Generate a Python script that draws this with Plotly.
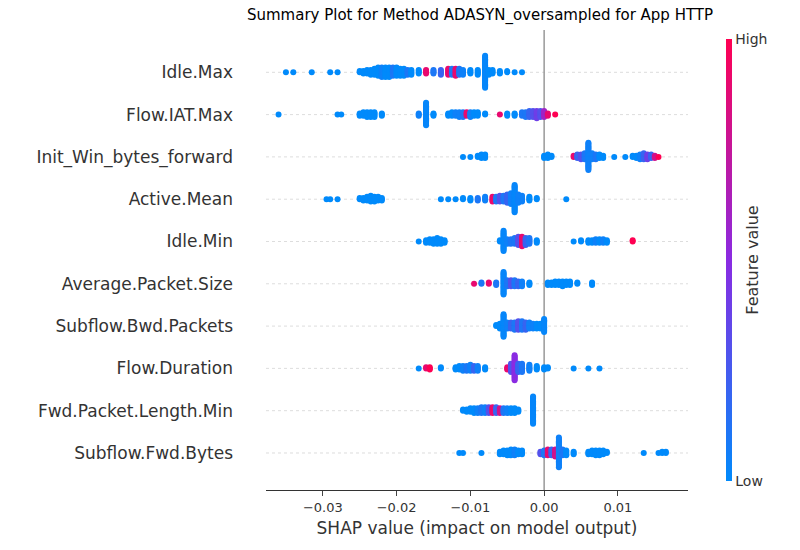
import plotly.graph_objects as go

features = ["Idle.Max", "Flow.IAT.Max", "Init_Win_bytes_forward", "Active.Mean", "Idle.Min",
            "Average.Packet.Size", "Subflow.Bwd.Packets", "Flow.Duration",
            "Fwd.Packet.Length.Min", "Subflow.Fwd.Bytes"]

# per feature: (shap value x1000, point count, feature value 0..1)
idle_max = [(-35, 1, 0), (-34, 1, 0), (-31.5, 1, 0), (-29, 1, 0), (-28, 1, 0), (-25, 2, 0), (-24.5, 3, 0),
            (-24, 4, 0), (-23.5, 5, 0), (-23, 6, 0), (-22.5, 8, 0), (-22, 9, 0.05), (-21.5, 9, 0),
            (-21, 9, 0), (-20.5, 8, 0.1), (-20, 8, 0), (-19.5, 7, 0), (-19, 7, 0), (-18.5, 5, 0.1),
            (-18, 5, 0), (-17, 4, 0), (-16, 4, 0.9), (-15, 4, 0.1), (-14, 5, 0.2), (-13, 6, 0.9),
            (-12.5, 6, 0.1), (-12, 7, 0.9), (-11.5, 6, 0.1), (-11, 5, 0.05), (-10, 4, 0), (-9, 5, 0),
            (-8, 28, 0.02), (-7.5, 5, 0), (-7, 4, 0), (-6, 3, 0), (-5, 2, 0), (-4, 1, 0), (-3, 1, 0)]
flow_iat_max = [(-36, 1, 0), (-28, 1, 0), (-27.5, 1, 0), (-25, 3, 0), (-24.5, 4, 0), (-24, 5, 0),
                (-23.5, 5, 0), (-23, 5, 0), (-22, 3, 0), (-17, 3, 0.05), (-16, 20, 0.02), (-15, 3, 0),
                (-13, 3, 0), (-12.5, 4, 0), (-12, 4, 0.05), (-11.5, 5, 0.05), (-11, 5, 0.1),
                (-10.5, 4, 0.9), (-10, 5, 0.05), (-9.5, 4, 0), (-9, 4, 0), (-8, 2, 0), (-6, 1, 0.9),
                (-5, 3, 0), (-4, 3, 0), (-3, 4, 0.1), (-2.5, 5, 0.1), (-2, 6, 0.2), (-1.5, 6, 0.3),
                (-1, 7, 0.4), (-0.5, 6, 0.3), (0, 6, 0.6), (0.5, 3, 0.9), (1.5, 1, 1)]
init_win = [(-11, 1, 0), (-10, 1, 0), (-9, 2, 0), (-8.5, 4, 0), (-8, 4, 0), (0, 3, 0), (0.5, 4, 0),
            (1, 2, 0), (4, 2, 0.9), (4.5, 4, 0.2), (5, 5, 0.3), (5.5, 6, 0.1), (6, 24, 0.05),
            (6.5, 6, 0.05), (7, 5, 0.1), (7.5, 4, 0), (8, 3, 0), (9.5, 1, 0), (11, 1, 0), (12, 2, 0),
            (12.5, 3, 0), (13, 5, 0.05), (13.5, 6, 0.2), (14, 5, 0.4), (14.5, 4, 0.2), (15, 3, 0.8),
            (15.5, 1, 1)]
active_mean = [(-29.5, 1, 0), (-29, 1, 0), (-28, 1, 0), (-25, 2, 0), (-24.5, 3, 0), (-24, 4, 0),
               (-23.5, 6, 0), (-23, 5, 0), (-22.5, 4, 0), (-22, 3, 0), (-14, 1, 0), (-13, 1, 0),
               (-12, 1, 0), (-11, 2, 0), (-10, 3, 0), (-9, 3, 0.1), (-8, 4, 0.05), (-7, 5, 0.9),
               (-6.5, 5, 0.1), (-6, 6, 0.3), (-5.5, 6, 0.1), (-5, 8, 0.2), (-4.5, 10, 0.05),
               (-4, 24, 0.02), (-3.5, 8, 0.05), (-3, 6, 0.05), (-2, 4, 0), (-1, 2, 0), (3, 1, 0)]
idle_min = [(-17, 1, 0), (-16, 3, 0), (-15.5, 4, 0), (-15, 5, 0), (-14.5, 6, 0), (-14, 5, 0),
            (-13.5, 3, 0), (-6, 2, 0), (-5.5, 18, 0.02), (-5, 5, 0.05), (-4.5, 5, 0.1), (-4, 6, 0.1),
            (-3.5, 8, 0.3), (-3, 9, 0.9), (-2.5, 7, 0.2), (-2, 6, 0.1), (-1, 3, 0), (4, 1, 0),
            (5, 2, 0), (6, 3, 0), (6.5, 3, 0), (7, 4, 0.05), (7.5, 4, 0), (8, 4, 0.05), (8.5, 3, 0),
            (12, 2, 1)]
avg_packet = [(-9.5, 1, 0.9), (-8.5, 2, 0.1), (-7.5, 2, 0.9), (-6.5, 3, 0.1), (-5.5, 20, 0.02),
              (-5, 6, 0.1), (-4.5, 6, 0.3), (-4, 6, 0.1), (-3.5, 5, 0.2), (-3, 5, 0.05), (-2, 3, 0),
              (0.5, 3, 0), (1, 3, 0), (1.5, 4, 0), (2, 4, 0), (2.5, 5, 0), (3, 4, 0), (3.5, 4, 0),
              (4.5, 2, 0), (6.5, 3, 0)]
subflow_bwd = [(-6.5, 2, 0), (-6, 5, 0), (-5.5, 20, 0.02), (-5, 6, 0.05), (-4.5, 6, 0.2),
               (-4, 7, 0.1), (-3.5, 8, 0.3), (-3, 8, 0.1), (-2.5, 7, 0.2), (-2, 6, 0.05),
               (-1.5, 5, 0.05), (-1, 5, 0), (-0.5, 5, 0), (0, 12, 0.02)]
flow_duration = [(-17, 1, 0), (-16, 2, 0.9), (-15.5, 3, 1), (-14, 2, 0), (-12, 3, 0), (-11.5, 4, 0),
                 (-11, 5, 0.05), (-10.5, 5, 0.1), (-10, 6, 0.05), (-9.5, 5, 0.2), (-9, 5, 0.05),
                 (-8, 3, 0), (-5, 3, 0.9), (-4.5, 8, 0.3), (-4, 22, 0.5), (-3.5, 8, 0.2),
                 (-3, 8, 0.1), (-2, 6, 0.05), (-1, 4, 0), (0, 3, 0), (0.5, 2, 0), (4, 1, 0),
                 (6, 1, 0), (7.5, 1, 0)]
fwd_pkt_min = [(-11, 2, 0), (-10.5, 3, 0), (-10, 4, 0), (-9.5, 5, 0), (-9, 5, 0.05), (-8.5, 6, 0.1),
               (-8, 6, 0.05), (-7.5, 6, 0.3), (-7, 6, 0.9), (-6.5, 6, 0.2), (-6, 5, 0.8),
               (-5.5, 5, 0.1), (-5, 5, 0.05), (-4.5, 5, 0), (-4, 5, 0), (-3.5, 3, 0),
               (-1.5, 24, 0.02)]
subflow_fwd = [(-11.5, 1, 0), (-11, 1, 0), (-8.5, 1, 0), (-6, 3, 0), (-5.5, 4, 0), (-5, 5, 0),
               (-4.5, 6, 0), (-4, 6, 0.05), (-3.5, 4, 0), (-3, 4, 0), (-0.5, 3, 0.3), (0, 5, 0.1),
               (0.5, 6, 0.9), (1, 6, 0.2), (1.5, 7, 0.8), (2, 26, 0.05), (2.5, 6, 0.1), (3, 5, 0),
               (4, 3, 0), (6, 3, 0), (6.5, 4, 0), (7, 5, 0), (7.5, 5, 0), (8, 4, 0), (8.5, 2, 0),
               (13.5, 1, 0), (15.5, 1, 0), (16, 2, 0), (16.5, 2, 0)]

rows = [idle_max, flow_iat_max, init_win, active_mean, idle_min, avg_packet,
        subflow_bwd, flow_duration, fwd_pkt_min, subflow_fwd]

colorscale = [[0, "rgb(0,138,251)"], [0.5, "rgb(138,43,226)"], [1, "rgb(255,0,82)"]]

xs, ys, cs = [], [], []
n = len(features)
for i, row in enumerate(rows):
    base = n - 1 - i
    for x, cnt, c in row:
        for k in range(cnt):
            # swarm offset: 0, +d, -d, +2d, -2d, ...
            step = (k + 1) // 2
            sign = 1 if k % 2 else -1
            xs.append(x / 1000.0)
            ys.append(base + sign * step * 0.028)
            cs.append(c)

fig = go.Figure()
fig.add_trace(go.Scatter(
    x=xs, y=ys, mode="markers",
    marker=dict(size=6, color=cs, colorscale=colorscale, cmin=0, cmax=1, line=dict(width=0),
                colorbar=dict(thickness=6, len=1.005, lenmode="fraction", y=0.5, yanchor="middle",
                              x=1.066, xanchor="left", outlinewidth=0,
                              tickvals=[0, 1], ticktext=["Low", "High"], ticks="",
                              tickfont=dict(size=14, color="#333"),
                              title=dict(text="Feature value", side="right",
                                         font=dict(size=16, color="#333")))),
    showlegend=False, hoverinfo="skip"))

for j in range(n):
    fig.add_shape(type="line", xref="paper", x0=0, x1=1, y0=j, y1=j,
                  line=dict(color="#ddd", width=1, dash="dot"), layer="below")
fig.add_shape(type="line", x0=0, x1=0, yref="paper", y0=0, y1=1,
              line=dict(color="#999", width=1.5), layer="below")

fig.update_layout(
    width=800, height=550, plot_bgcolor="white", paper_bgcolor="white",
    margin=dict(l=258, r=120, t=22, b=68, autoexpand=False),
    font=dict(family="DejaVu Sans", color="#333"),
    title=dict(text="Summary Plot for Method ADASYN_oversampled for App HTTP", automargin=False,
               x=0.59, xanchor="center", y=0.998, yanchor="top", font=dict(size=15, color="black")),
    xaxis=dict(range=[-0.0377, 0.0195], tickvals=[-0.03, -0.02, -0.01, 0, 0.01],
               ticktext=["\u22120.03", "\u22120.02", "\u22120.01", "0.00", "0.01"], automargin=False,
               showgrid=False, zeroline=False, showline=True, linecolor="#333",
               ticks="outside", ticklen=5, tickfont=dict(size=13),
               title=dict(text="SHAP value (impact on model output)", standoff=8, font=dict(size=17))),
    yaxis=dict(range=[-0.875, 10.0], tickvals=list(range(n - 1, -1, -1)), ticktext=features,
               automargin=False, ticklabelstandoff=32,
               showgrid=False, zeroline=False, showline=False, tickfont=dict(size=17)),
)

fig.write_html("out.html")
